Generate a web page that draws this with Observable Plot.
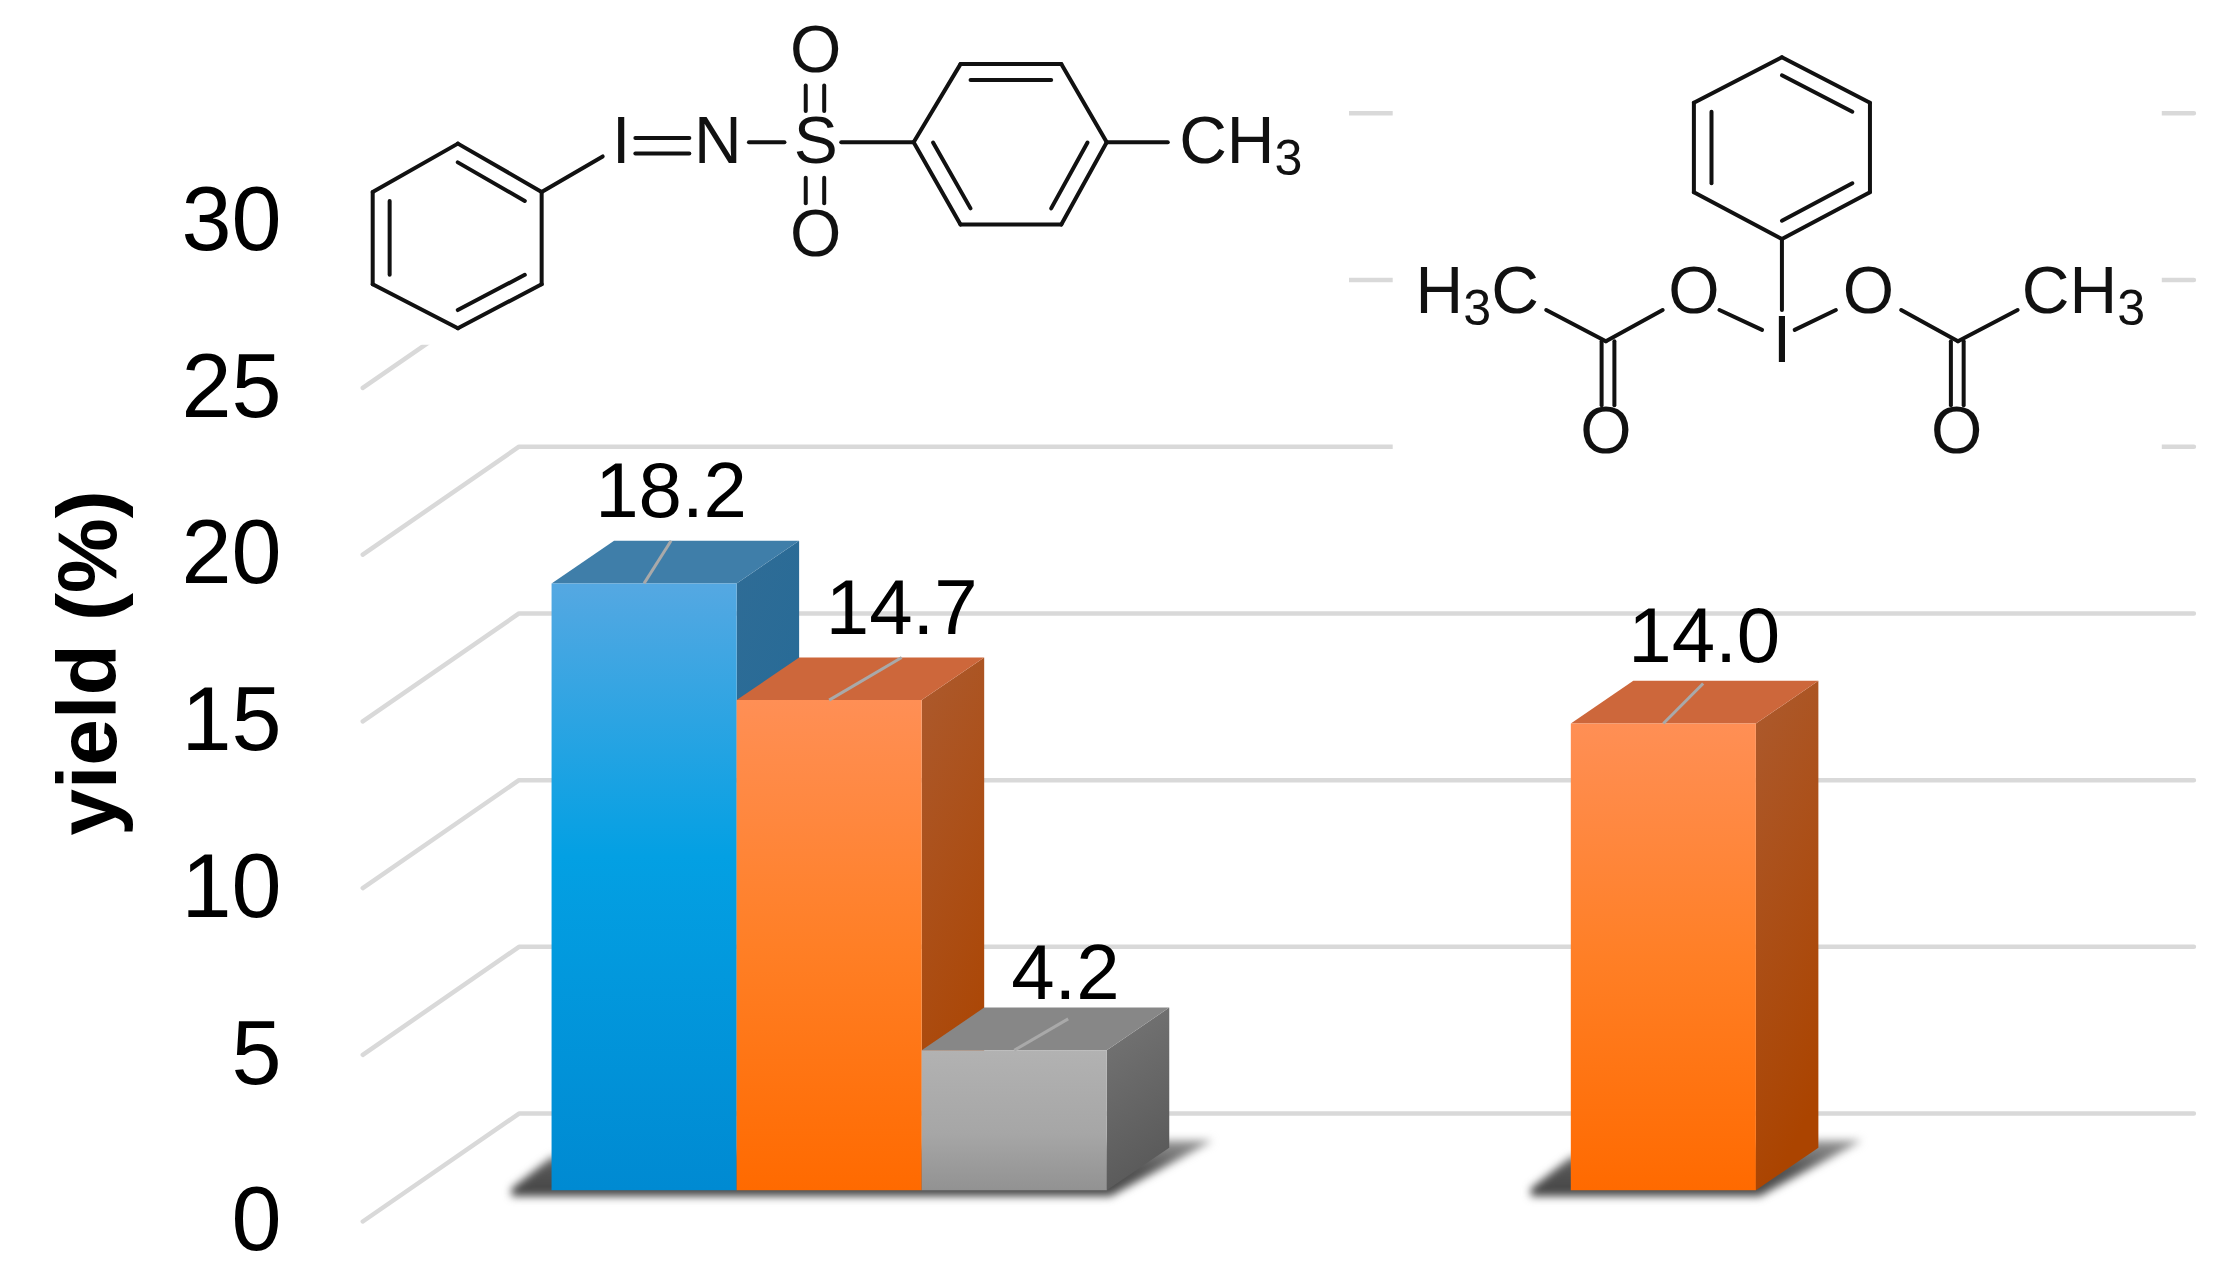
<!DOCTYPE html>
<html><head><meta charset="utf-8">
<script src="https://cdn.jsdelivr.net/npm/d3@7"></script>
<script src="https://cdn.jsdelivr.net/npm/@observablehq/plot@0.6"></script>
<style>html,body{margin:0;padding:0;background:#fff}svg{display:block}</style>
</head><body><div id="chart"></div>
<script>
// ---- chart data
const yieldTicks = [0, 5, 10, 15, 20, 25, 30];
const oxidants = ["PhINTs", "PhI(OAc)2"];
const seriesNames = ["blue", "orange", "gray"];
const blueValues = [18.2, null];
const orangeValues = [14.7, 14.0];
const grayValues = [4.2, null];

// ---- layout of the pseudo-3D box, in data units (x: bar widths, y: percent)
const groupStart = [0, 4.485];
const barWidth = 0.995;
const floorRise = 0.937, barDX = 0.336, barDY = 1.278, wallDX = 0.84, wallDY = 3.237;
const wallLeft = -1.015, wallRight = 8.83;
const labelShift = {"0-0": [0.145, 1.98], "0-1": [0.39, 1.98], "0-2": [0.275, 1.55], "1-1": [0.22, 1.85]};
const leaderEnd = {"0-0": [0.145, 1.278], "0-1": [0.39, 1.278], "0-2": [0.29, 0.94], "1-1": [0.214, 1.2]};
const faces = {
  blue: ["url(#blueFront)", "url(#blueSide)", "#3f7ea9"],
  orange: ["url(#orangeFront)", "url(#orangeSide)", "#cd673b"],
  gray: ["url(#grayFront)", "url(#graySide)", "#878787"]
};

const bars = [];
[blueValues, orangeValues, grayValues].forEach((vals, s) => vals.forEach((v, g) => {
  if (v != null) bars.push({key: g + "-" + s, series: seriesNames[s], value: v, x0: groupStart[g] + s * barWidth, top: floorRise + v});
}));

const poly = (pts, o) => Plot.line(pts.map(([x, y]) => ({x, y})), {x: "x", y: "y", stroke: "none", ...o});

const gridRows = yieldTicks.flatMap(v => [
  {v, x: wallLeft, y: v},
  {v, x: wallLeft + wallDX, y: v + wallDY},
  {v, x: wallRight, y: v + wallDY}
]);

// ---- molecule drawings: local coordinates around an anchor atom
const UX = 1 / 131, UY = 1 / 23.48;
const anchorA = [1.42, 32.37], anchorB = [6.615, 26.4];
const ringA1 = [[-252, 1], [-193, 35], [-193, 100], [-252, 131], [-312, 100], [-312, 35]];
const ringA2 = [[69, 0], [102, -55], [173, -55], [205, 0], [173, 58], [102, 58]];
const ringB = [[0, -200], [62, -168], [62, -105], [0, -72], [-62, -105], [-62, -168]];
const bondsA = [
  [-193, 35, -150, 10], [-127, -3, -89, -3], [-127, 8, -89, 8], [-47, 0, -22, 0], [18, 0, 69, 0], [205, 0, 248, 0],
  [-7, -40, -7, -22], [6, -40, 6, -22], [-7, 25, -7, 43], [6, 25, 6, 43]
];
const bondsB = [
  [0, -72, 0, -22], [-44, -22, -14, -8], [9, -8, 38, -22], [-166, -22, -124, 0], [-124, 0, -84, -22],
  [84, -22, 124, 0], [124, 0, 166, -22], [-127, 0, -127, 45], [-118, 0, -118, 45], [119, 0, 119, 45], [128, 0, 128, 45]
];
const atomsA = [["I", -137, 0], ["N", -69, 0], ["S", 0, 0], ["O", 0, -64], ["O", 0, 65]];
const atomsB = [["I", 0, 0], ["O", -62, -35], ["O", 61, -35], ["O", -124, 64], ["O", 123, 64]];
const groupsA = [["CH3", 256, 0]];
const groupsB = [["H3C", -258, -35], ["CH3", 169, -35]];

function ringSegments(r, doubles) {
  const c = [d3.mean(r, d => d[0]), d3.mean(r, d => d[1])];
  const out = r.map((a, i) => { const b = r[(i + 1) % 6]; return [a[0], a[1], b[0], b[1]]; });
  const k = 0.8;
  doubles.forEach(i => {
    const a = r[i], b = r[(i + 1) % 6];
    out.push([c[0] + (a[0] - c[0]) * k, c[1] + (a[1] - c[1]) * k, c[0] + (b[0] - c[0]) * k, c[1] + (b[1] - c[1]) * k]);
  });
  return out;
}
const toX = (a, d) => a[0] + d * UX, toY = (a, d) => a[1] - d * UY;
const molLinks = (anchor, segs) => Plot.link(segs, {
  x1: d => toX(anchor, d[0]), y1: d => toY(anchor, d[1]),
  x2: d => toX(anchor, d[2]), y2: d => toY(anchor, d[3]),
  stroke: "#111", strokeWidth: 4, strokeLinecap: "round"
});
const molText = (anchor, rows, anchorName) => Plot.text(rows, {
  x: d => toX(anchor, d[1]), y: d => toY(anchor, d[2]), text: d => d[0],
  fontSize: 66, fill: "#111", textAnchor: anchorName
});

const grad = (id, stops, diag) => `<linearGradient id="${id}" x1="0" y1="0" x2="${diag ? 0.25 : 0}" y2="1">` +
  stops.map(([o, c]) => `<stop offset="${o}" stop-color="${c}"/>`).join("") + `</linearGradient>`;
const defs = () => {
  const g = document.createElementNS("http://www.w3.org/2000/svg", "g");
  const d = document.createElementNS("http://www.w3.org/2000/svg", "defs");
  d.innerHTML =
    grad("blueFront", [[0, "#55a8e2"], [0.45, "#03a0e3"], [1, "#008ad2"]]) +
    grad("blueSide", [[0, "#2f6c96"], [1, "#1f6a98"]], true) +
    grad("orangeFront", [[0, "#ff8f55"], [0.5, "#ff7f26"], [1, "#ff6a00"]]) +
    grad("orangeSide", [[0, "#ac5a2e"], [1, "#ab4400"]], true) +
    grad("grayFront", [[0, "#b2b2b2"], [0.6, "#a6a6a6"], [1, "#929292"]]) +
    grad("graySide", [[0, "#767676"], [1, "#5a5a5a"]], true) +
    `<linearGradient id="shadow" x1="0" y1="1" x2="0" y2="0"><stop offset="0" stop-color="#444"/><stop offset="0.5" stop-color="#555"/><stop offset="1" stop-color="#999"/></linearGradient>`;
  g.appendChild(d);
  return g;
};

const shadowOf = (x0, x1) => poly([
  [x0 - 0.215, floorRise + 0.05], [x0, floorRise + 1.0], [x1 + 0.336, floorRise + 1.49],
  [x1 + 0.57, floorRise + 1.49], [x1 + 0.02, floorRise - 0.18], [x0 - 0.215, floorRise - 0.18]
], {fill: "url(#shadow)", imageFilter: "blur(4px)"});

const chart = Plot.plot({
  width: 2228, height: 1283,
  marginLeft: 281, marginRight: 0, marginTop: 0, marginBottom: 0,
  x: {domain: [-1.452, 9.016], axis: null},
  y: {domain: [-1.86, 36.62], axis: null},
  style: {background: "#fff", fontFamily: "'Liberation Sans', Arial, sans-serif", color: "#000"},
  marks: [
    defs,
    Plot.axisY({ticks: yieldTicks, tickSize: 0, tickPadding: 0, fontSize: 90, fill: "#000", tickFormat: d => String(d), label: null}),
    Plot.text(["yield (%)"], {frameAnchor: "left", textAnchor: "middle", y: 16.75, rotate: -90, dx: -192, fontSize: 84, fontWeight: "bold", fill: "#000"}),
    Plot.line(gridRows, {x: "x", y: "y", z: "v", stroke: "#d9d9d9", strokeWidth: 4.5}),
    Plot.rect([[-1.13, 4.29, 26.28, 36.62], [4.525, 8.66, 23.0, 36.62]], {
      x1: d => d[0], x2: d => d[1], y1: d => d[2], y2: d => d[3], fill: "#fff"
    }),
    shadowOf(0, 3 * barWidth),
    shadowOf(groupStart[1] + barWidth, groupStart[1] + 2 * barWidth),
    ...bars.flatMap(b => {
      const [front, side, top] = faces[b.series];
      const x0 = b.x0, x1 = b.x0 + barWidth, y0 = floorRise, y1 = b.top;
      const mid = x0 + barWidth / 2, [lx, ly] = leaderEnd[b.key];
      return [
        poly([[x1, y0], [x1 + barDX, y0 + barDY], [x1 + barDX, y1 + barDY], [x1, y1]], {fill: side}),
        poly([[x0, y1], [x1, y1], [x1 + barDX, y1 + barDY], [x0 + barDX, y1 + barDY]], {fill: top}),
        poly([[x0, y0], [x1, y0], [x1, y1], [x0, y1]], {fill: front}),
        Plot.link([b], {x1: mid, y1: y1, x2: mid + lx, y2: y1 + ly, stroke: "#a9a9a9", strokeWidth: 3})
      ];
    }),
    Plot.text(bars, {
      x: d => d.x0 + barWidth / 2 + labelShift[d.key][0], y: d => d.top + labelShift[d.key][1],
      text: d => d.value.toFixed(1), fontSize: 78, fill: "#000", lineAnchor: "bottom"
    }),
    molLinks(anchorA, [...ringSegments(ringA1, [0, 2, 4]), ...ringSegments(ringA2, [1, 3, 5]), ...bondsA]),
    molLinks(anchorB, [...ringSegments(ringB, [0, 2, 4]), ...bondsB]),
    molText(anchorA, atomsA, "middle"),
    molText(anchorB, atomsB, "middle"),
    molText(anchorA, groupsA, "start"),
    molText(anchorB, groupsB, "start")
  ]
});
// real subscripts inside the chemical group labels
d3.select(chart).selectAll("g text").each(function () {
  const t = this.textContent;
  if (t === "CH3" || t === "H3C") {
    const [a, b] = t === "CH3" ? ["CH", ""] : ["H", "C"];
    this.textContent = a;
    const s = d3.select(this);
    s.append("tspan").attr("dy", "0.24em").attr("font-size", "0.76em").text("3");
    if (b) s.append("tspan").attr("dy", "-0.18em").text(b);
  }
});
document.getElementById("chart").appendChild(chart);
</script>
</body></html>
